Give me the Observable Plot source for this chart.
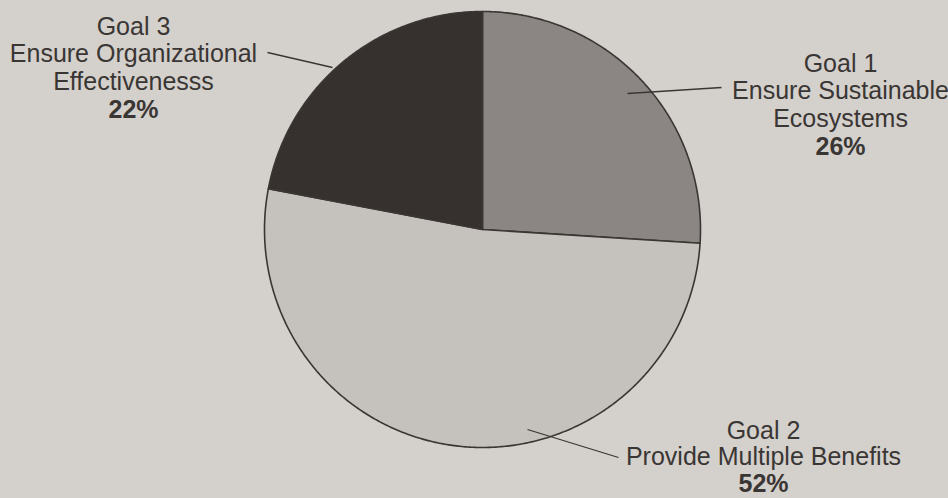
<!DOCTYPE html>
<html>
<head>
<meta charset="utf-8">
<script src="https://cdn.jsdelivr.net/npm/d3@7"></script>
<script src="https://cdn.jsdelivr.net/npm/@observablehq/plot@0.6"></script>
<style>
  html, body { margin: 0; padding: 0; background: #d4d0cc; }
  #chart { width: 948px; height: 498px; }
</style>
</head>
<body>
<div id="chart"></div>
<script>
// ---- data ----
const goals = ["Goal 1", "Goal 2", "Goal 3"];
const descriptions = [
  ["Ensure Sustainable", "Ecosystems"],
  ["Provide Multiple Benefits"],
  ["Ensure Organizational", "Effectivenesss"]
];
const shares = [26, 52, 22];

// ---- styling / layout (not data) ----
const fills = ["#8b8683", "#c5c1bd", "#36312f"];
const ink = "#3a3634";
const pie = {cx: 482, cy: 229, r: 218};
const labelLayout = [
  {x: 840, y: 71, step: 27.7},
  {x: 763, y: 438, step: 26.5},
  {x: 133, y: 34, step: 27.9}
];
const leaderLayout = [
  {x1: 627, y1: 93, x2: 721, y2: 87},
  {x1: 527, y1: 429, x2: 618, y2: 457},
  {x1: 267, y1: 52, x2: 332, y2: 67}
];
const fontSize = 25;

// ---- build slices from shares ----
const total = d3.sum(shares);
let start = 0;
const slices = goals.map((g, i) => {
  const sweep = shares[i] / total * 2 * Math.PI;
  const a0 = start, a1 = start + sweep;
  start = a1;
  const n = Math.max(2, Math.ceil(sweep / (Math.PI / 360)));
  const pts = [{x: pie.cx, y: pie.cy}];
  for (let k = 0; k <= n; k++) {
    const a = a0 + (a1 - a0) * k / n;
    pts.push({x: pie.cx + pie.r * Math.sin(a), y: pie.cy - pie.r * Math.cos(a)});
  }
  pts.push({x: pie.cx, y: pie.cy});
  return {goal: g, fill: fills[i], pts};
});

// ---- label lines ----
const nameLines = [];
const pctLines = [];
goals.forEach((g, i) => {
  const L = labelLayout[i];
  const lines = [g, ...descriptions[i]];
  lines.forEach((t, j) => nameLines.push({x: L.x, y: L.y + j * L.step, t}));
  pctLines.push({x: L.x, y: L.y + lines.length * L.step, t: shares[i] + "%"});
});
const leaders = leaderLayout.map((l, i) => ({...l, goal: goals[i]}));

const chart = Plot.plot({
  width: 948,
  height: 498,
  margin: 0,
  style: {background: "#d4d0cc", fontFamily: "'Liberation Sans', Arial, Helvetica, sans-serif"},
  x: {domain: [0, 948], range: [0, 948], axis: null},
  y: {domain: [0, 498], range: [0, 498], axis: null},
  marks: [
    ...slices.map(s => Plot.line(s.pts, {x: "x", y: "y", fill: s.fill, stroke: ink, strokeWidth: 1.6, strokeLinejoin: "round"})),
    Plot.link(leaders, {x1: "x1", y1: "y1", x2: "x2", y2: "y2", stroke: ink, strokeWidth: 1.3}),
    Plot.text(nameLines, {x: "x", y: "y", text: "t", textAnchor: "middle", lineAnchor: "bottom", fontSize, fill: ink}),
    Plot.text(pctLines, {x: "x", y: "y", text: "t", textAnchor: "middle", lineAnchor: "bottom", fontSize, fontWeight: "bold", fill: ink})
  ]
});
document.getElementById("chart").appendChild(chart);
</script>
</body>
</html>
